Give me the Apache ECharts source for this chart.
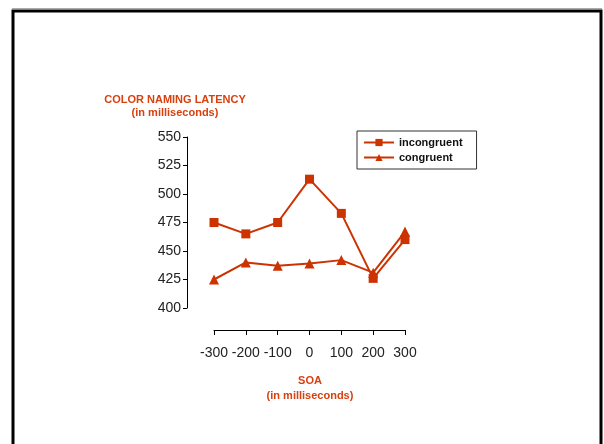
<!DOCTYPE html>
<html>
<head>
<meta charset="utf-8">
<script src="https://cdn.jsdelivr.net/npm/echarts@6/dist/echarts.min.js"></script>
<style>html,body{margin:0;padding:0;background:#fff;}#c{width:604px;height:444px;}</style>
</head>
<body>
<div id="c"></div>
<script>
var soa = [-300, -200, -100, 0, 100, 200, 300];
var incongruent = [475, 465, 475, 513, 483, 426, 460];
var congruent = [425, 440, 437, 439, 442, 431, 467];
var yTitle = ['COLOR NAMING LATENCY', '(in milliseconds)'];
var xTitle = ['SOA', '(in milliseconds)'];

var red = '#cc3300';
var titleColor = '#d8400e';
function pairs(xs, ys){ return xs.map(function(x,i){ return [x, ys[i]]; }); }

var chart = echarts.init(document.getElementById('c'), null, {renderer:'canvas'});
chart.setOption({
  animation: false,
  backgroundColor: '#fff',
  textStyle: {fontFamily: 'Liberation Sans, Arial, sans-serif'},
  graphic: [
    {type:'rect', shape:{x:13, y:11, width:588, height:440}, style:{fill:'none', stroke:'#000', lineWidth:3}, z:-1},
    {type:'line', shape:{x1:12, y1:8.5, x2:602, y2:8.5}, style:{stroke:'#aaa', lineWidth:1}, z:-1},
    {type:'text', style:{text:yTitle[0], x:175, y:100, textAlign:'center', textVerticalAlign:'middle', fill:titleColor, font:'bold 11px Liberation Sans, Arial, sans-serif'}},
    {type:'text', style:{text:yTitle[1], x:175, y:113, textAlign:'center', textVerticalAlign:'middle', fill:titleColor, font:'bold 11px Liberation Sans, Arial, sans-serif'}},
    {type:'text', style:{text:xTitle[0], x:310, y:381, textAlign:'center', textVerticalAlign:'middle', fill:titleColor, font:'bold 11px Liberation Sans, Arial, sans-serif'}},
    {type:'text', style:{text:xTitle[1], x:310, y:396, textAlign:'center', textVerticalAlign:'middle', fill:titleColor, font:'bold 11px Liberation Sans, Arial, sans-serif'}}
  ],
  legend: {
    orient: 'vertical',
    left: 357, top: 131,
    padding: [6, 14, 6, 6],
    itemGap: 4,
    itemWidth: 30, itemHeight: 9,
    borderColor: '#333', borderWidth: 1,
    backgroundColor: '#fff',
    textStyle: {color:'#111', fontWeight:'bold', fontSize:11, fontFamily:'Liberation Sans, Arial, sans-serif'},
    data: ['incongruent', 'congruent']
  },
  grid: {left: 214, right: 199, top: 137, bottom: 136, containLabel: false},
  xAxis: {
    type: 'value', min: -300, max: 300, interval: 100,
    position: 'bottom', offset: 22,
    axisLine: {show:true, onZero:false, lineStyle:{color:'#000', width:1}},
    axisTick: {show:true, length:5, inside:false, lineStyle:{color:'#000'}},
    axisLabel: {color:'#222', fontSize:14, margin:16, fontFamily:'Liberation Sans, Arial, sans-serif'},
    splitLine: {show:false}
  },
  yAxis: {
    type: 'value', min: 400, max: 550, interval: 25,
    position: 'left', offset: 27,
    axisLine: {show:true, onZero:false, lineStyle:{color:'#000', width:1}},
    axisTick: {show:true, length:4, inside:false, lineStyle:{color:'#000'}},
    axisLabel: {color:'#222', fontSize:14, margin:6, fontFamily:'Liberation Sans, Arial, sans-serif'},
    splitLine: {show:false}
  },
  series: [
    {name:'incongruent', type:'line', data: pairs(soa, incongruent),
     symbol:'rect', symbolSize:9, lineStyle:{color:red, width:2}, itemStyle:{color:red}},
    {name:'congruent', type:'line', data: pairs(soa, congruent),
     symbol:'triangle', symbolSize:10, lineStyle:{color:red, width:2}, itemStyle:{color:red}}
  ]
});
</script>
</body>
</html>
